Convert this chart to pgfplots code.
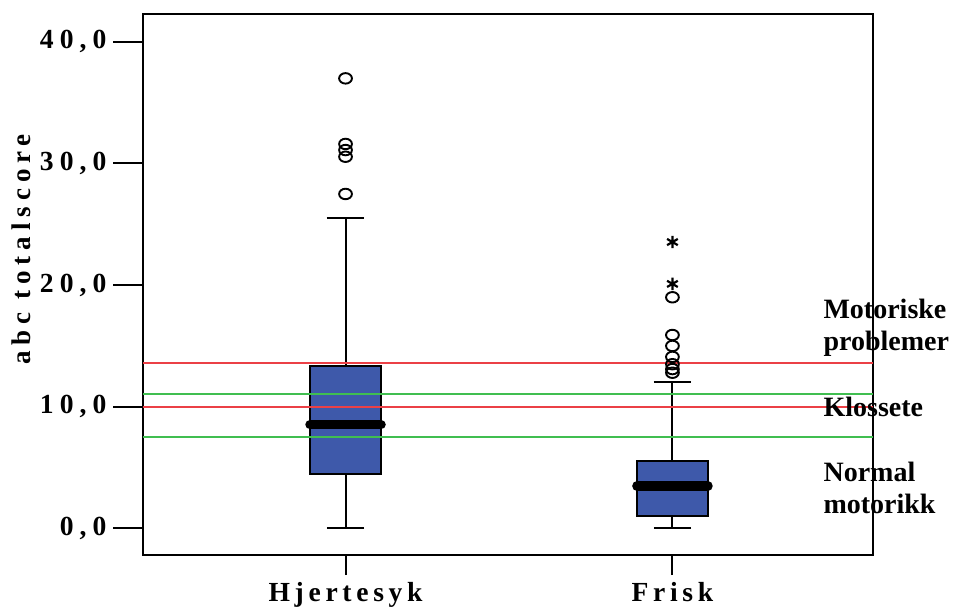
\documentclass[border=0pt]{standalone}
\usepackage{pgfplots}
\pgfplotsset{compat=1.18}
\usepgfplotslibrary{statistics}
\usepackage{fontspec}
\setmainfont{Liberation Serif}
\newfontfamily\spaced[LetterSpace=22]{Liberation Serif}
\newfontfamily\xspaced[LetterSpace=17]{Liberation Serif}
\definecolor{boxblue}{RGB}{62,89,170}
\definecolor{lred}{RGB}{235,64,70}
\definecolor{lgreen}{RGB}{64,190,80}
\begin{document}
\begin{tikzpicture}
\useasboundingbox (-71.75pt,-26pt) rectangle (404.75pt,277.5pt);
\begin{axis}[
  at={(0,0)}, anchor=south west,
  scale only axis, width=364.5pt, height=270.5pt,
  xmin=0.382, xmax=2.612, ymin=-2.18, ymax=42.28,
  axis line style={line width=1pt},
  tick align=outside,
  xtick={1,2}, xticklabels={Hjertesyk, Frisk},
  ytick={0,10,20,30,40}, yticklabels={{0,0},{10,0},{20,0},{30,0},{40,0}},
  xtick pos=bottom, ytick pos=left,
  major tick length=15pt,
  tick style={black, line width=1pt},
  xtick style={/pgfplots/major tick length=10pt},
  yticklabel style={font=\fontsize{13.8}{15}\selectfont\spaced\bfseries},
  xticklabel style={font=\fontsize{13.8}{15}\selectfont\xspaced\bfseries, yshift=5pt},
  ylabel={abc totalscore},
  ylabel style={font=\fontsize{13.5}{15}\selectfont\spaced\bfseries, at={(axis description cs:-0.167,0.565)}, anchor=center},
  clip=false,
  boxplot/draw direction=y,
  boxplot/every box/.style={draw=black, line width=1pt, fill=boxblue},
  boxplot/every whisker/.style={black, line width=1pt},
  boxplot/every median/.style={black, line width=4.8pt, line cap=round},
]
\addplot[boxplot prepared={draw position=1, lower whisker=0, lower quartile=4.5, median=8.53, upper quartile=13.38, upper whisker=25.54, box extend=0.217, whisker extend=0.114}, draw=black, fill=boxblue, line width=1pt] coordinates {};
\addplot[boxplot prepared={draw position=2, lower whisker=0, lower quartile=1.05, median=3.49, upper quartile=5.57, upper whisker=12.04, box extend=0.217, whisker extend=0.114}, draw=black, fill=boxblue, line width=1pt] coordinates {};
\addplot[lred, line width=1pt] coordinates {(0.382,13.6) (2.612,13.6)};
\addplot[lred, line width=1pt] coordinates {(0.382,10.0) (2.612,10.0)};
\addplot[lgreen, line width=1pt] coordinates {(0.382,11.03) (2.612,11.03)};
\addplot[lgreen, line width=1pt] coordinates {(0.382,7.49) (2.612,7.49)};
\addplot[only marks, mark=o, mark size=3.2pt, mark options={black, line width=0.95pt, yscale=0.82}] coordinates {(1,36.99)(1,31.6)(1,31.1)(1,30.55)(1,27.49)(2,19.0)(2,15.9)(2,15.0)(2,14.1)(2,13.5)(2,13.1)(2,12.8)};
\addplot[only marks, mark=asterisk, mark size=3.1pt, mark options={black, line width=1.1pt}] coordinates {(2,23.54)(2,20.1)};
\node[inner sep=0pt, anchor=base west, font=\fontsize{14}{16}\selectfont\bfseries] at (axis cs:2.461,17.27) {Motoriske};
\node[inner sep=0pt, anchor=base west, font=\fontsize{14}{16}\selectfont\bfseries] at (axis cs:2.461,14.59) {problemer};
\node[inner sep=0pt, anchor=base west, font=\fontsize{14}{16}\selectfont\bfseries] at (axis cs:2.461,9.19) {Klossete};
\node[inner sep=0pt, anchor=base west, font=\fontsize{14}{16}\selectfont\bfseries] at (axis cs:2.461,3.85) {Normal};
\node[inner sep=0pt, anchor=base west, font=\fontsize{14}{16}\selectfont\bfseries] at (axis cs:2.461,1.25) {motorikk};
\end{axis}
\end{tikzpicture}
\end{document}
